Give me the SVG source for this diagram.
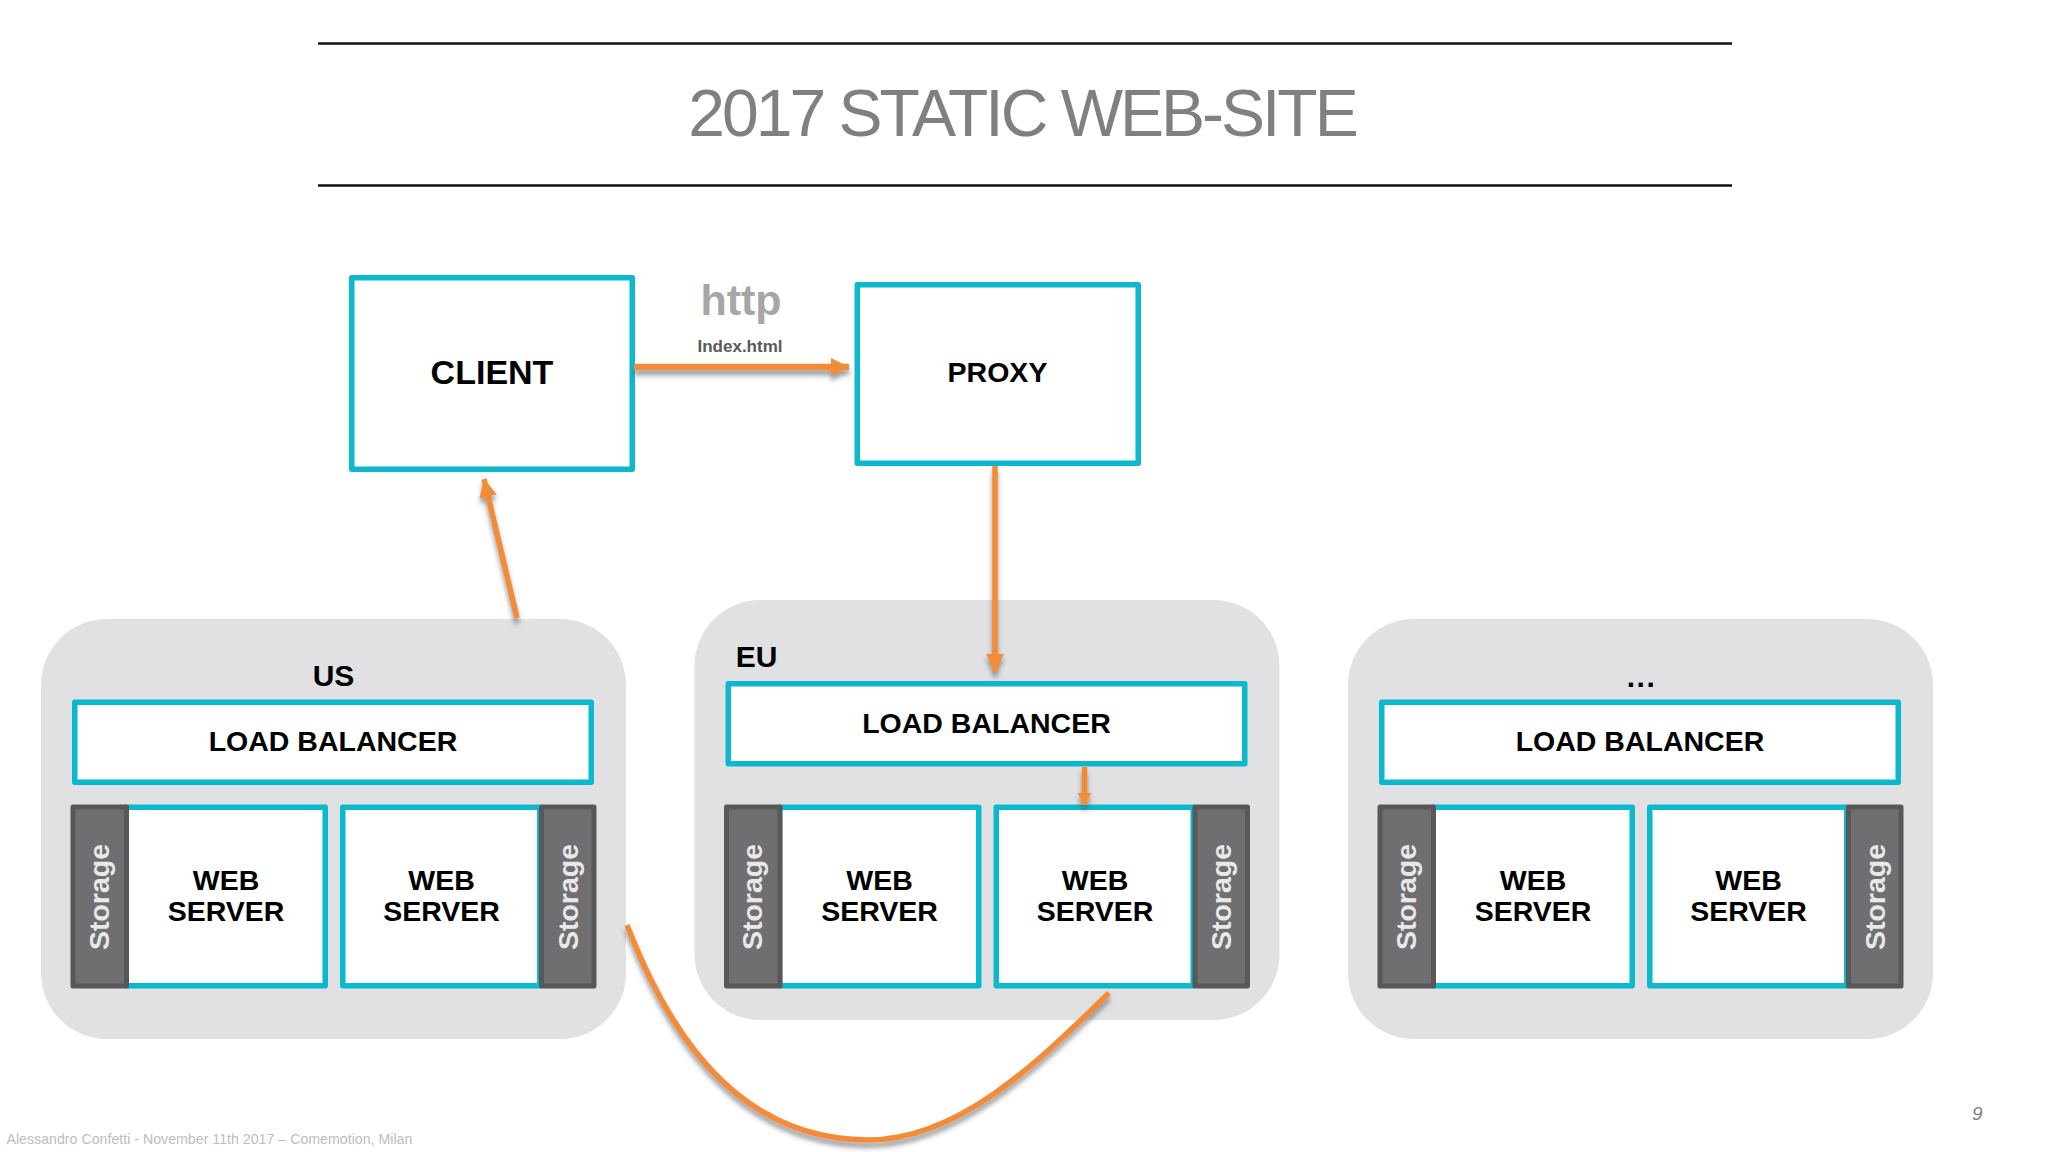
<svg xmlns="http://www.w3.org/2000/svg" width="2048" height="1152" viewBox="0 0 2048 1152">
<style>
text{font-family:"Liberation Sans",Arial,sans-serif}
.panel{fill:#e1e1e3}
.box{fill:#fff;stroke:#0bb8cc;stroke-width:5.5;stroke-linejoin:round}
.sto{fill:#6f6f71;stroke:#58585a;stroke-width:5;stroke-linejoin:round}
.l{font-weight:700;font-size:28.5px;fill:#000;text-anchor:middle}
.s{font-weight:700;font-size:28.5px;fill:#e8e8e8;text-anchor:middle}
.c{fill:none;stroke:#f28c38;stroke-width:5.5}
.rule{stroke:#111;stroke-width:2.5}
</style>
<defs>
<marker id="ah" markerUnits="userSpaceOnUse" markerWidth="20" markerHeight="20" refX="18" refY="9" orient="auto"><path d="M0 0L18 9L0 18Z" fill="#f28c38"/></marker>
<marker id="ahs" markerUnits="userSpaceOnUse" markerWidth="14" markerHeight="14" refX="12" refY="7" orient="auto"><path d="M0 0L12 7L0 14Z" fill="#f28c38"/></marker>
<filter id="sh" x="0" y="0" width="2048" height="1152" filterUnits="userSpaceOnUse"><feDropShadow dx="0" dy="5" stdDeviation="2.5" flood-color="#555" flood-opacity=".6"/></filter>
<g id="lb"><rect class="box" x="74.75" y="702.35" width="516.5" height="80"/><text class="l" x="333" y="751">LOAD BALANCER</text></g>
</defs>
<rect width="2048" height="1152" fill="#fff"/>
<g id="title">
<line class="rule" x1="318" y1="43.5" x2="1732" y2="43.5"/>
<line class="rule" x1="318" y1="185.5" x2="1732" y2="185.5"/>
<text x="1022" y="136" font-size="66" letter-spacing="-3" fill="#808080" text-anchor="middle">2017 STATIC WEB-SITE</text>
</g>
<g id="region-us"><rect class="panel" x="41" y="619" width="585" height="420" rx="66"/><text class="l" x="333.5" y="686" style="font-size:30px">US</text></g>
<g id="region-eu"><rect class="panel" x="694.5" y="600" width="585" height="420" rx="66"/><text class="l" x="756.5" y="666.5" style="font-size:30px">EU</text></g>
<g id="region-other"><rect class="panel" x="1348" y="619" width="585" height="420" rx="66"/><text class="l" x="1641.5" y="687" style="font-size:30px;letter-spacing:1.5px">...</text></g>
<g id="client"><rect class="box" x="351.75" y="277.75" width="280.5" height="191.5"/><text class="l" x="492" y="384" style="font-size:34px">CLIENT</text></g>
<g id="proxy"><rect class="box" x="857.25" y="284.75" width="281" height="178.5"/><text class="l" x="997.5" y="382">PROXY</text></g>
<g id="lb-us"><use href="#lb"/></g>
<g id="lb-eu" transform="translate(653.5,-18.5)"><use href="#lb"/></g>
<g id="lb-other" transform="translate(1307,0)"><use href="#lb"/></g>
<g id="us-server-1"><rect class="box" x="126" y="807.35" width="199.25" height="178.5"/><rect class="sto" x="73" y="807" width="53.5" height="179"/><text class="l" x="226" y="890">WEB</text><text class="l" x="226" y="920.5">SERVER</text><text class="s" transform="translate(108.5,897) rotate(-90)">Storage</text></g>
<g id="us-server-2"><rect class="box" x="342.75" y="807.35" width="197" height="178.5"/><rect class="sto" x="541.5" y="807" width="52.5" height="179"/><text class="l" x="441.5" y="890">WEB</text><text class="l" x="441.5" y="920.5">SERVER</text><text class="s" transform="translate(577.5,897) rotate(-90)">Storage</text></g>
<g id="eu-server-1" transform="translate(653.5,0)"><rect class="box" x="126" y="807.35" width="199.25" height="178.5"/><rect class="sto" x="73" y="807" width="53.5" height="179"/><text class="l" x="226" y="890">WEB</text><text class="l" x="226" y="920.5">SERVER</text><text class="s" transform="translate(108.5,897) rotate(-90)">Storage</text></g>
<g id="eu-server-2" transform="translate(653.5,0)"><rect class="box" x="342.75" y="807.35" width="197" height="178.5"/><rect class="sto" x="541.5" y="807" width="52.5" height="179"/><text class="l" x="441.5" y="890">WEB</text><text class="l" x="441.5" y="920.5">SERVER</text><text class="s" transform="translate(577.5,897) rotate(-90)">Storage</text></g>
<g id="other-server-1" transform="translate(1307,0)"><rect class="box" x="126" y="807.35" width="199.25" height="178.5"/><rect class="sto" x="73" y="807" width="53.5" height="179"/><text class="l" x="226" y="890">WEB</text><text class="l" x="226" y="920.5">SERVER</text><text class="s" transform="translate(108.5,897) rotate(-90)">Storage</text></g>
<g id="other-server-2" transform="translate(1307,0)"><rect class="box" x="342.75" y="807.35" width="197" height="178.5"/><rect class="sto" x="541.5" y="807" width="52.5" height="179"/><text class="l" x="441.5" y="890">WEB</text><text class="l" x="441.5" y="920.5">SERVER</text><text class="s" transform="translate(577.5,897) rotate(-90)">Storage</text></g>
<g id="connectors" filter="url(#sh)">
<line class="c" style="stroke-width:6.5" x1="634" y1="367" x2="849" y2="367" marker-end="url(#ah)"/>
<line class="c" x1="995" y1="466" x2="995" y2="672" marker-end="url(#ah)"/>
<line class="c" x1="517" y1="618" x2="484" y2="479" marker-end="url(#ah)"/>
<line class="c" x1="1084.5" y1="767" x2="1084.5" y2="805" marker-end="url(#ahs)"/>
<path class="c" d="M627 925C660 1010 725 1140 868 1140C960 1140 1040 1060 1109 993"/>
</g>
<g id="labels">
<text x="741" y="315" font-size="43" font-weight="700" fill="#a6a6a6" text-anchor="middle">http</text>
<text x="740" y="352" font-size="17" font-weight="700" fill="#595959" text-anchor="middle">Index.html</text>
<text x="6.5" y="1144" font-size="14.2" fill="#bdbdbd">Alessandro Confetti - November 11th 2017 – Comemotion, Milan</text>
<text x="1972" y="1120" font-size="19" font-style="italic" fill="#7f7f7f">9</text>
</g>
</svg>
